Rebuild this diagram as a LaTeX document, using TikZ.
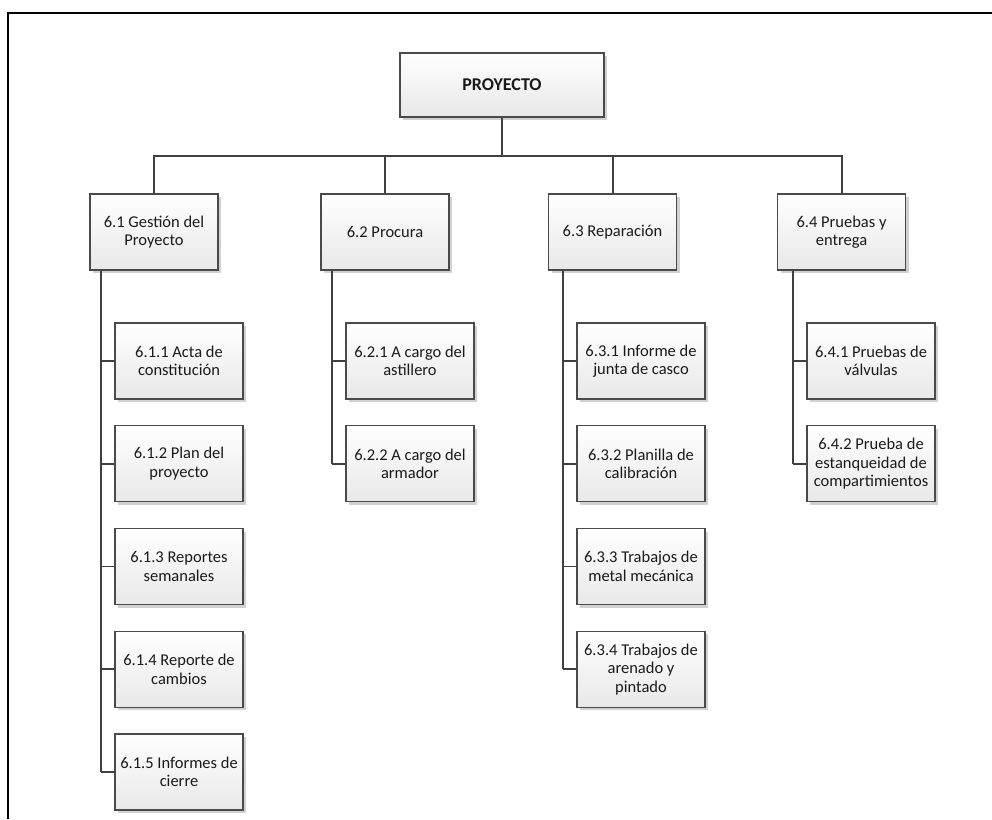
\documentclass[tikz,border=0pt]{standalone}
\usepackage{fontspec}
\setmainfont{Carlito}
\usetikzlibrary{shadows}
\definecolor{edge}{HTML}{4A4A4A}
\definecolor{wire}{HTML}{404040}
\definecolor{ink}{HTML}{1A1A1A}
\begin{document}
\begin{tikzpicture}[x=1pt,y=-1pt,
  wbsbox/.style={draw=edge, line width=1.1pt, top color=white, bottom color=black!9,
    minimum width=128pt, minimum height=76pt, inner xsep=1pt, inner ysep=2pt, align=center,
    text=ink, font=\fontsize{16.5}{18.5}\selectfont,
    drop shadow={shadow xshift=3pt, shadow yshift=-3pt, fill=black!18, opacity=1}},
  rootbox/.style={wbsbox, minimum width=204pt, minimum height=64pt,
    font=\fontsize{18}{20}\selectfont\bfseries},
  wire/.style={draw=wire, line width=2pt},
  twig/.style={draw=wire, line width=1.6pt}]
\useasboundingbox (0,0) rectangle (992,819);

% outer frame (only top and left edges fall inside the page)
\draw[black, line width=2.2pt] (8,819) -- (8,13) -- (992,13);

% root
\node[rootbox] (root) at (502,85) {PROYECTO};

% level 1
\node[wbsbox] (g) at (154,232) {6.1 Gestión del\\Proyecto};
\node[wbsbox] (p) at (385,232) {6.2 Procura};
\node[wbsbox] (r) at (612.5,232) {6.3 Reparación};
\node[wbsbox] (e) at (841.5,232) {6.4 Pruebas y\\entrega};

% level 2 -- 6.1
\node[wbsbox] (g1) at (179,361)    {6.1.1 Acta de\\constitución};
\node[wbsbox] (g2) at (179,463.75) {6.1.2 Plan del\\proyecto};
\node[wbsbox] (g3) at (179,566.5)  {6.1.3 Reportes\\semanales};
\node[wbsbox] (g4) at (179,669.25) {6.1.4 Reporte de\\cambios};
\node[wbsbox] (g5) at (179,772)    {6.1.5 Informes de\\cierre};
% level 2 -- 6.2
\node[wbsbox] (p1) at (410,361)    {6.2.1 A cargo del\\astillero};
\node[wbsbox] (p2) at (410,463.75) {6.2.2 A cargo del\\armador};
% level 2 -- 6.3
\node[wbsbox] (r1) at (641,361)    {6.3.1 Informe de\\junta de casco};
\node[wbsbox] (r2) at (641,463.75) {6.3.2 Planilla de\\calibración};
\node[wbsbox] (r3) at (641,566.5)  {6.3.3 Trabajos de\\metal mecánica};
\node[wbsbox] (r4) at (641,669.25) {6.3.4 Trabajos de\\arenado y\\pintado};
% level 2 -- 6.4
\node[wbsbox] (e1) at (871,361)    {6.4.1 Pruebas de\\válvulas};
\node[wbsbox] (e2) at (871,463.75) {6.4.2 Prueba de\\estanqueidad de\\compartimientos};

% bus from the root to level 1
\coordinate (bus) at (502,156);
\draw[wire] (root.south) -- (bus);
\draw[wire] (g.north) |- (bus) -| (e.north);
\draw[wire] (p.north) -- (p.north |- bus);
\draw[wire] (r.north) -- (r.north |- bus);

% spines to the work packages
\coordinate (gs) at ([xshift=-13pt]g1.west);
\coordinate (ps) at ([xshift=-13pt]p1.west);
\coordinate (rs) at ([xshift=-13pt]r1.west);
\coordinate (es) at ([xshift=-13pt]e1.west);
\draw[wire] (gs |- g.south) -- (gs |- g5.west);
\draw[wire] (ps |- p.south) -- (ps |- p2.west);
\draw[wire] (rs |- r.south) -- (rs |- r4.west);
\draw[wire] (es |- e.south) -- (es |- e2.west);
\foreach \n in {g1,g2,g3,g4,g5} \draw[twig] (gs |- \n.west) -- (\n.west);
\foreach \n in {p1,p2} \draw[twig] (ps |- \n.west) -- (\n.west);
\foreach \n in {r1,r2,r3,r4} \draw[twig] (rs |- \n.west) -- (\n.west);
\foreach \n in {e1,e2} \draw[twig] (es |- \n.west) -- (\n.west);
\end{tikzpicture}
\end{document}
